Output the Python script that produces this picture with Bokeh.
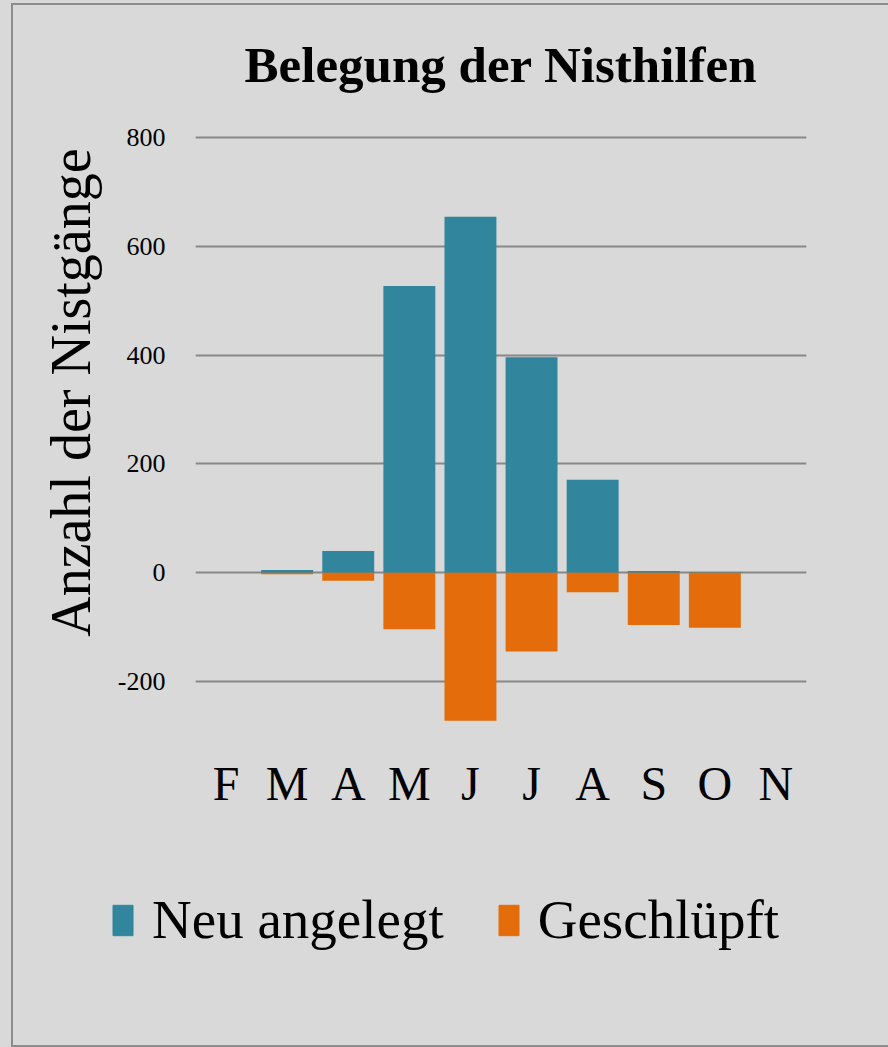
from bokeh.plotting import figure
from bokeh.layouts import column
from bokeh.models import (FixedTicker, Legend, LegendItem, ColumnDataSource, Range1d, Title)
from bokeh.embed import file_html
from bokeh.resources import INLINE

# ---- data ----
months = ["F", "M", "A", "M", "J", "J", "A", "S", "O", "N"]
neu_angelegt = [0, 5, 40, 527, 654, 396, 171, 3, 1, 0]
geschluepft = [0, -3, -15, -104, -272, -145, -36, -96, -101, 0]
y_ticks = [-200, 0, 200, 400, 600, 800]

title_text = "Belegung der Nisthilfen"
y_label_text = "Anzahl der Nistgänge"
series_names = ["Neu angelegt", "Geschlüpft"]

BLUE = "#31859C"
ORANGE = "#E46C0A"
BG = "#D9D9D9"
FONT = "Liberation Serif"

xs = list(range(len(months)))
src = ColumnDataSource(dict(x=xs, neu=neu_angelegt, ges=geschluepft))

H1 = 880
p = figure(width=888, height=H1, output_backend="svg", toolbar_location=None,
           x_range=Range1d(-0.5, len(months) - 0.5), y_range=Range1d(-290, 820),
           min_border_left=195, min_border_right=82, min_border_top=126,
           min_border_bottom=H1 - 730)
p.frame_align = False
p.background_fill_color = BG
p.border_fill_color = BG
p.outline_line_color = None

r1 = p.vbar(x="x", top="neu", bottom=0, width=0.85, source=src,
            fill_color=BLUE, line_color=None)
r2 = p.vbar(x="x", top=0, bottom="ges", width=0.85, source=src,
            fill_color=ORANGE, line_color=None)

# grid
p.xgrid.visible = False
p.ygrid.ticker = FixedTicker(ticks=y_ticks)
p.ygrid.grid_line_color = "#888888"
p.ygrid.grid_line_width = 2
p.ygrid.level = "underlay"

# y axis
p.yaxis.ticker = FixedTicker(ticks=y_ticks)
p.yaxis.major_label_overrides = {t: str(t) for t in y_ticks}
p.yaxis.axis_line_color = None
p.yaxis.major_tick_line_color = None
p.yaxis.minor_tick_line_color = None
p.yaxis.major_label_text_font = FONT
p.yaxis.major_label_text_font_size = "26px"
p.yaxis.major_label_text_color = "#000000"
p.yaxis.major_label_standoff = 24

# x axis
p.xaxis.ticker = FixedTicker(ticks=xs)
p.xaxis.major_label_overrides = {i: m for i, m in enumerate(months)}
p.xaxis.axis_line_color = None
p.xaxis.major_tick_line_color = None
p.xaxis.minor_tick_line_color = None
p.xaxis.major_label_text_font = FONT
p.xaxis.major_label_text_font_size = "48px"
p.xaxis.major_label_text_color = "#000000"
p.xaxis.major_label_standoff = 20

# title
p.title.text = title_text
p.title.text_font = FONT
p.title.text_font_style = "bold"
p.title.text_font_size = "51px"
p.title.align = "center"
p.title.text_color = "#000000"
p.title.standoff = 68

# y axis label as a left-side title
p.add_layout(Title(text=y_label_text, text_font=FONT, text_font_size="56px",
                   text_font_style="normal", align="right", offset=22,
                   text_color="#000000", standoff=26), "left")

# legend in a second, axis-free figure below (its bars lie below its visible window)
H2 = 1047 - H1
p2 = figure(width=888, height=H2, output_backend="svg", toolbar_location=None,
            x_range=Range1d(-0.5, len(months) - 0.5), y_range=Range1d(700, 2000),
            min_border=0)
p2.frame_align = False
p2.axis.visible = False
p2.grid.visible = False
p2.outline_line_color = None
p2.background_fill_color = BG
p2.border_fill_color = BG
g1 = p2.vbar(x="x", top="neu", bottom=0, width=0.85, source=src,
             fill_color=BLUE, line_color=BLUE)
g2 = p2.vbar(x="x", top=0, bottom="ges", width=0.85, source=src,
             fill_color=ORANGE, line_color=ORANGE)

legend = Legend(items=[LegendItem(label=series_names[0], renderers=[g1]),
                       LegendItem(label=series_names[1], renderers=[g2])],
                orientation="horizontal", location=(110, 96),
                glyph_width=25, glyph_height=38, label_standoff=17, spacing=52,
                padding=0, margin=0, label_text_font=FONT,
                label_text_font_size="55px", label_text_color="#000000",
                background_fill_alpha=0, border_line_alpha=0)
p2.add_layout(legend, "center")

layout = column(p, p2, spacing=0)

html = file_html(layout, INLINE)
html = html.replace("</head>", "<style>html,body{background:#D9D9D9;}"
                    "body::after{content:'';position:fixed;left:11px;top:3px;"
                    "width:900px;height:1040px;border:2px solid #8C8C8C;"
                    "pointer-events:none;z-index:10;}</style></head>", 1)
open("out.html", "w").write(html)
